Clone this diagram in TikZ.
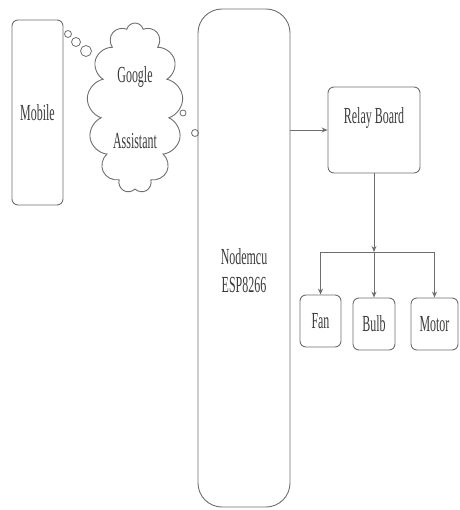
\documentclass[tikz,border=0pt]{standalone}
\usepackage{fontspec}
\setmainfont{Liberation Serif}[FakeStretch=0.52]
\usepackage{tikz}
\usetikzlibrary{arrows.meta,positioning,shapes.symbols,calc}
\definecolor{linec}{RGB}{110,110,110}
\definecolor{txtc}{RGB}{60,60,60}
\tikzset{
  box/.style={draw=linec,line width=0.9pt,rounded corners=6pt,align=center,font=\fontsize{23}{28}\selectfont,text=txtc,inner sep=2pt},
  bub/.style={draw=linec,line width=0.8pt,circle,inner sep=0pt},
  arr/.style={-{Stealth[length=6pt,width=5pt]},line width=0.9pt,draw=linec},
  ln/.style={line width=0.9pt,draw=linec},
}
\begin{document}
\begin{tikzpicture}[x=1pt,y=-1pt]
\useasboundingbox (0,0) rectangle (459,510);
\node[box,minimum width=51,minimum height=185] (mob) at (37.5,112.5) {Mobile};
\node[box,cloud,cloud puffs=13,aspect=0.55,rounded corners=0pt,minimum width=96,minimum height=170] (ga) at (135,108) {Google\\[38pt]Assistant};
\node[box,minimum width=92,minimum height=498,rounded corners=24pt] (mcu) at (244,258)
  {\raisebox{-21pt}[0pt][0pt]{\begin{tabular}{@{}c@{}}Nodemcu\\ESP8266\end{tabular}}};
\node[box,minimum width=92,minimum height=86,text depth=28pt] (rb) at (374,130) {Relay Board};
\node[box,minimum width=41,minimum height=52] (fan) at (320.5,321) {Fan};
\node[box,minimum width=42,minimum height=52] (bulb) at (374,324) {Bulb};
\node[box,minimum width=47,minimum height=52] (mot) at (434.5,324) {Motor};
% thought bubbles
\node[bub,minimum size=7] (b1) at (68,34) {};
\node[bub,minimum size=9] (b2) at (76,42) {};
\node[bub,minimum size=11] (b3) at (86,51) {};
\node[bub,minimum size=6] (b4) at (183,113) {};
\node[bub,minimum size=7] (b5) at (195,133) {};
% connectors
\coordinate (br) at (374,252);
\draw[arr] (rb.west -| mcu.east) -- (rb.west);
\draw[arr] (rb.south) -- (br);
\draw[ln] (fan.north |- br) -- (mot.north |- br);
\foreach \n in {fan,bulb,mot}
  \draw[arr] (\n.north |- br) -- (\n.north);
\end{tikzpicture}
\end{document}
